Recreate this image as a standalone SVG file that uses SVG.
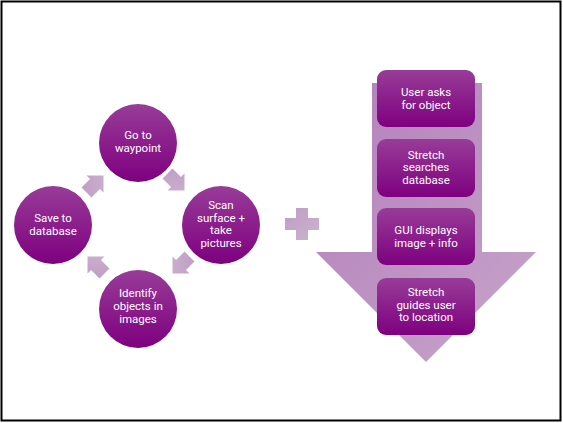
<svg xmlns="http://www.w3.org/2000/svg" width="563" height="423" viewBox="0 0 563 423">
<defs>
<linearGradient id="pg" x1="0" y1="0" x2="0" y2="1">
<stop offset="0" stop-color="#983c98"/>
<stop offset="1" stop-color="#7e007f"/>
</linearGradient>
<linearGradient id="ag" x1="0" y1="0" x2="1" y2="1">
<stop offset="0" stop-color="#b37fba"/>
<stop offset="1" stop-color="#c7a4cb"/>
</linearGradient>
<linearGradient id="sg" x1="0" y1="0" x2="1" y2="1">
<stop offset="0" stop-color="#bf9cc4"/>
<stop offset="1" stop-color="#cdb3d0"/>
</linearGradient>
<polygon id="chev" points="-12,-7 0,-7 0,-12 12,0 0,12 0,7 -12,7"/>
</defs>
<style>
.node{fill:url(#pg)}
.t{font-family:Roboto,"Liberation Sans",sans-serif;font-size:11.5px;fill:#ffffff;text-anchor:middle}
.arr{fill:url(#sg)}
</style>
<rect x="1.5" y="1.5" width="559" height="419" fill="#ffffff" stroke="#000000" stroke-width="2"/>
<g id="connectors">
<use href="#chev" class="arr" transform="translate(176,182) rotate(45)"/>
<use href="#chev" class="arr" transform="translate(181,265) rotate(135)"/>
<use href="#chev" class="arr" transform="translate(96,265) rotate(-135)"/>
<use href="#chev" class="arr" transform="translate(95,184) rotate(-45)"/>
</g>
<g id="plus">
<polygon points="296,208 308,208 308,218 319,218 319,230 308,230 308,240 296,240 296,230 285,230 285,218 296,218" fill="url(#sg)"/>
</g>
<g id="bigarrow">
<polygon points="372,83 482,83 482,252 536,252 426,362 316,252 372,252" fill="url(#ag)"/>
</g>
<g id="n-goto">
<circle class="node" cx="138" cy="143" r="39"/>
<text class="t" x="138" y="139">Go to</text>
<text class="t" x="138" y="152">waypoint</text>
</g>
<g id="n-scan">
<circle class="node" cx="221" cy="225" r="39"/>
<text class="t" x="221" y="209">Scan</text>
<text class="t" x="221" y="221.5">surface +</text>
<text class="t" x="221" y="234">take</text>
<text class="t" x="221" y="246.5">pictures</text>
</g>
<g id="n-identify">
<circle class="node" cx="138" cy="309" r="39"/>
<text class="t" x="138" y="297">Identify</text>
<text class="t" x="138" y="310">objects in</text>
<text class="t" x="138" y="323">images</text>
</g>
<g id="n-save">
<circle class="node" cx="53" cy="225" r="39"/>
<text class="t" x="53" y="222">Save to</text>
<text class="t" x="53" y="234.5">database</text>
</g>
<g id="b-user">
<rect class="node" x="377" y="70" width="98" height="57" rx="9"/>
<text class="t" x="426" y="96">User asks</text>
<text class="t" x="426" y="108.5">for object</text>
</g>
<g id="b-search">
<rect class="node" x="377" y="139" width="98" height="58" rx="9"/>
<text class="t" x="426" y="158.5">Stretch</text>
<text class="t" x="426" y="171">searches</text>
<text class="t" x="426" y="183.5">database</text>
</g>
<g id="b-gui">
<rect class="node" x="377" y="208" width="98" height="57" rx="9"/>
<text class="t" x="426" y="234">GUI displays</text>
<text class="t" x="426" y="247">image + info</text>
</g>
<g id="b-guide">
<rect class="node" x="377" y="278" width="98" height="57" rx="9"/>
<text class="t" x="426" y="296">Stretch</text>
<text class="t" x="426" y="308.5">guides user</text>
<text class="t" x="426" y="321">to location</text>
</g>
</svg>
